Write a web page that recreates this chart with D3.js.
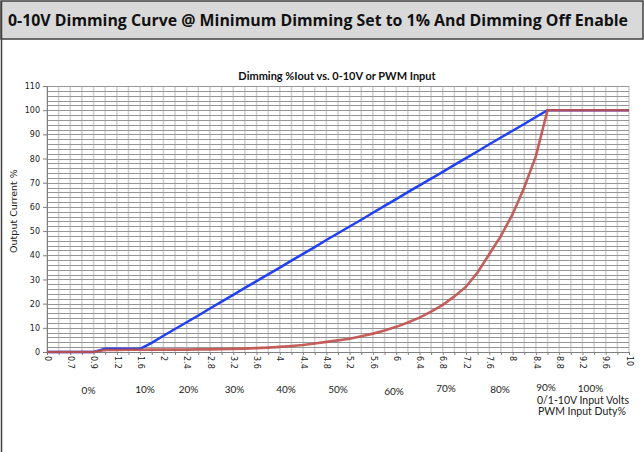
<!DOCTYPE html>
<html><head><meta charset="utf-8">
<script src="https://cdn.jsdelivr.net/npm/d3@7"></script>
<style>body{margin:0;background:#fff}svg{display:block}</style>
</head><body><svg id="c" width="644" height="452"></svg>
<script>
const categories = ["0","0.5","0.7","0.8","0.9","1","1.2","1.4","1.6","1.8","2","2.2","2.4","2.6","2.8","3","3.2","3.4","3.6","3.8","4","4.2","4.4","4.6","4.8","5","5.2","5.4","5.6","5.8","6","6.2","6.4","6.6","6.8","7","7.2","7.4","7.6","7.8","8","8.2","8.4","8.6","8.8","9","9.2","9.4","9.6","9.8","10"];
const labelEvery = 2;
const linearSeries = [0,0,0,0,0,1.3,1.3,1.3,1.3,3.8,6.7,9.5,12.3,15.1,18,20.8,23.6,26.5,29.3,32.1,34.9,37.8,40.6,43.4,46.3,49.1,51.9,54.7,57.6,60.4,63.2,66.1,68.9,71.7,74.5,77.4,80.2,83,85.9,88.7,91.5,94.3,97.2,100,100,100,100,100,100,100,100];
const logSeries = [0,0,0,0,0,0.8,0.8,0.9,0.9,1,1,1,1,1.1,1.1,1.2,1.3,1.4,1.6,1.8,2.1,2.5,2.9,3.5,4.2,4.8,5.5,6.5,7.6,8.9,10.4,12.2,14.2,16.7,19.5,23,27,33,40.5,48,57,68,81,100,100,100,100,100,100,100,100];
const yTicks = [0,10,20,30,40,50,60,70,80,90,100,110];
const dutyLabels = ["0%","10%","20%","30%","40%","50%","60%","70%","80%","90%","100%"];
const dutyX = [88.5,145,188.5,234.5,286,338,394,446,500,546,590.5];
const dutyY = [394,392.5,392.5,392.5,392.5,393,394.5,392,393,390.5,392];

const svg = d3.select("#c");
// frame + title bar
svg.append("rect").attr("x",1).attr("y",1).attr("width",642).attr("height",38).attr("fill","#d9d9d9").attr("stroke","#404040").attr("stroke-width",1.5);
svg.append("line").attr("x1",1.5).attr("x2",1.5).attr("y1",1).attr("y2",452).attr("stroke","#404040").attr("stroke-width",1.5);
svg.append("text").attr("x",8).attr("y",26).attr("font-family","'Open Sans', Lato, sans-serif").attr("font-weight","bold").attr("font-size",15.5)
  .attr("textLength",620).attr("lengthAdjust","spacingAndGlyphs").attr("fill","#111")
  .text("0-10V Dimming Curve @ Minimum Dimming Set to 1% And Dimming Off Enable");

const x = d3.scalePoint().domain(categories).range([47,629]);
const y = d3.scaleLinear().domain([0,110]).range([352,86]);

// grid
const g = svg.append("g");
g.selectAll("line.v").data(categories).join("line").attr("class","v")
  .attr("x1",d=>x(d)).attr("x2",d=>x(d)).attr("y1",y(110)).attr("y2",y(0))
  .attr("stroke","#d0d0d0").attr("stroke-width",1.5);
g.selectAll("line.h").data(d3.range(0,111,2)).join("line").attr("class","h")
  .attr("x1",x.range()[0]).attr("x2",x.range()[1]).attr("y1",d=>Math.round(y(d))+0.5).attr("y2",d=>Math.round(y(d))+0.5)
  .attr("stroke","#969696").attr("stroke-width",1);

// y axis
const ya = svg.append("g").attr("transform",`translate(${x.range()[0]},0)`)
  .call(d3.axisLeft(y).tickValues(yTicks).tickSize(4).tickPadding(3));
ya.select(".domain").attr("stroke","#808080");
ya.selectAll(".tick line").attr("stroke","#808080");
ya.selectAll("text").attr("font-family","'DejaVu Sans', sans-serif").attr("font-size",8).attr("fill","#222");

// x axis
const xa = svg.append("g").attr("transform",`translate(0,${y(0)})`)
  .call(d3.axisBottom(x).tickSize(3).tickFormat((d,i)=> i%labelEvery===0 ? d : ""));
xa.select(".domain").attr("stroke","#808080");
xa.selectAll(".tick line").attr("stroke","#808080");
xa.selectAll("text").attr("font-family","'DejaVu Sans', sans-serif").attr("font-size",8).attr("fill","#222")
  .attr("transform","rotate(90)").attr("text-anchor","start").attr("x",4).attr("y",0).attr("dy","0.35em");

// lines
const line = d3.line().x((d,i)=>x(categories[i])).y(d=>y(d));
svg.append("path").datum(linearSeries).attr("d",line).attr("fill","none").attr("stroke","#2040f5").attr("stroke-width",2.5);
svg.append("path").datum(logSeries).attr("d",line).attr("fill","none").attr("stroke","#c0504d").attr("stroke-width",2.6).attr("stroke-opacity",0.9);

// titles
svg.append("text").attr("x",337).attr("y",80).attr("text-anchor","middle").attr("font-family","Lato, sans-serif").attr("font-weight","bold").attr("font-size",11).attr("fill","#111").text("Dimming %Iout vs. 0-10V or PWM Input");
svg.append("text").attr("transform","translate(17,211) rotate(-90)").attr("text-anchor","middle").attr("font-family","'DejaVu Sans', sans-serif").attr("font-size",9.5).attr("fill","#222").text("Output Current %");

svg.selectAll("text.duty").data(dutyLabels).join("text").attr("class","duty")
  .attr("x",(d,i)=>dutyX[i]).attr("y",(d,i)=>dutyY[i]).attr("text-anchor","middle")
  .attr("font-family","Lato, sans-serif").attr("font-size",10).attr("fill","#222").text(d=>d);
svg.append("text").attr("x",537).attr("y",404).attr("font-family","Lato, sans-serif").attr("font-size",10.5).attr("fill","#222").text("0/1-10V Input Volts");
svg.append("text").attr("x",538).attr("y",415).attr("font-family","Lato, sans-serif").attr("font-size",10.5).attr("fill","#222").text("PWM Input Duty%");
</script></body></html>
